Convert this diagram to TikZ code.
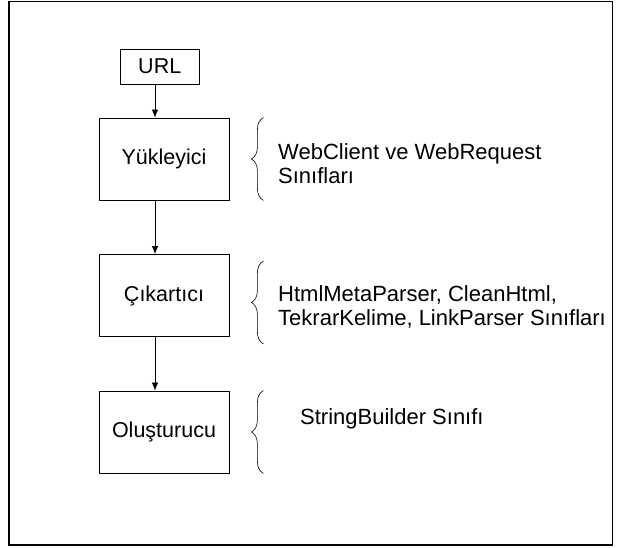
\documentclass[tikz,border=0pt]{standalone}
\usepackage{fontspec}
\setmainfont{Liberation Sans}
\usetikzlibrary{positioning,calc,arrows.meta,decorations.pathreplacing}
\tikzset{
    stage/.style={rectangle, draw, minimum width=130pt, minimum height=82pt, font=\fontsize{21.5}{24}\selectfont, line width=0.8pt},
    source/.style={rectangle, draw, minimum width=78.5pt, minimum height=35pt, font=\fontsize{21.5}{24}\selectfont, line width=0.8pt},
    line/.style={draw, -{Latex[length=8pt, width=6.5pt]}, line width=0.8pt},
    brace/.style={draw, decorate, decoration={brace, amplitude=12pt}, line width=0.6pt},
    info/.style={anchor=north west, align=left, inner sep=0pt, font=\fontsize{22}{24}\selectfont}
}
\begin{document}
\begin{tikzpicture}[x=1pt, y=1pt, node distance=136.5pt]
    \useasboundingbox (0,0) rectangle (622,-548);
    \draw [line width=1.6pt] (9,-1.5) rectangle (612.5,-545);

    \node [stage] (loader) at (164,-159) {Yükleyici};
    \node [stage, below of=loader] (extractor) {Çıkartıcı};
    \node [stage, below of=extractor] (builder) {Oluşturucu};
    \node [source] (url) at (159.75,-66.5) {URL};
    \coordinate (axis) at (155,0);

    \path [line] (url.south -| axis) -- (loader.north -| axis);
    \path [line] (loader.south -| axis) -- (extractor.north -| axis);
    \path [line] (extractor.south -| axis) -- (builder.north -| axis);

    % braces
    \path [brace] ([xshift=34pt]loader.south east) -- ([xshift=34pt]loader.north east);
    \path [brace] ([xshift=34pt, yshift=-7pt]extractor.south east) -- ([xshift=34pt, yshift=-7pt]extractor.north east);
    \path [brace] ([xshift=34pt]builder.south east) -- ([xshift=34pt]builder.north east);

    \node [info] (loaderinfo) at (278,-143) {WebClient ve WebRequest\\Sınıfları};
    \node [info] (extractorinfo) at (278,-285) {HtmlMetaParser, CleanHtml,\\TekrarKelime, LinkParser Sınıfları};
    \node [info] (builderinfo) at (300,-408) {StringBuilder Sınıfı};
\end{tikzpicture}
\end{document}
